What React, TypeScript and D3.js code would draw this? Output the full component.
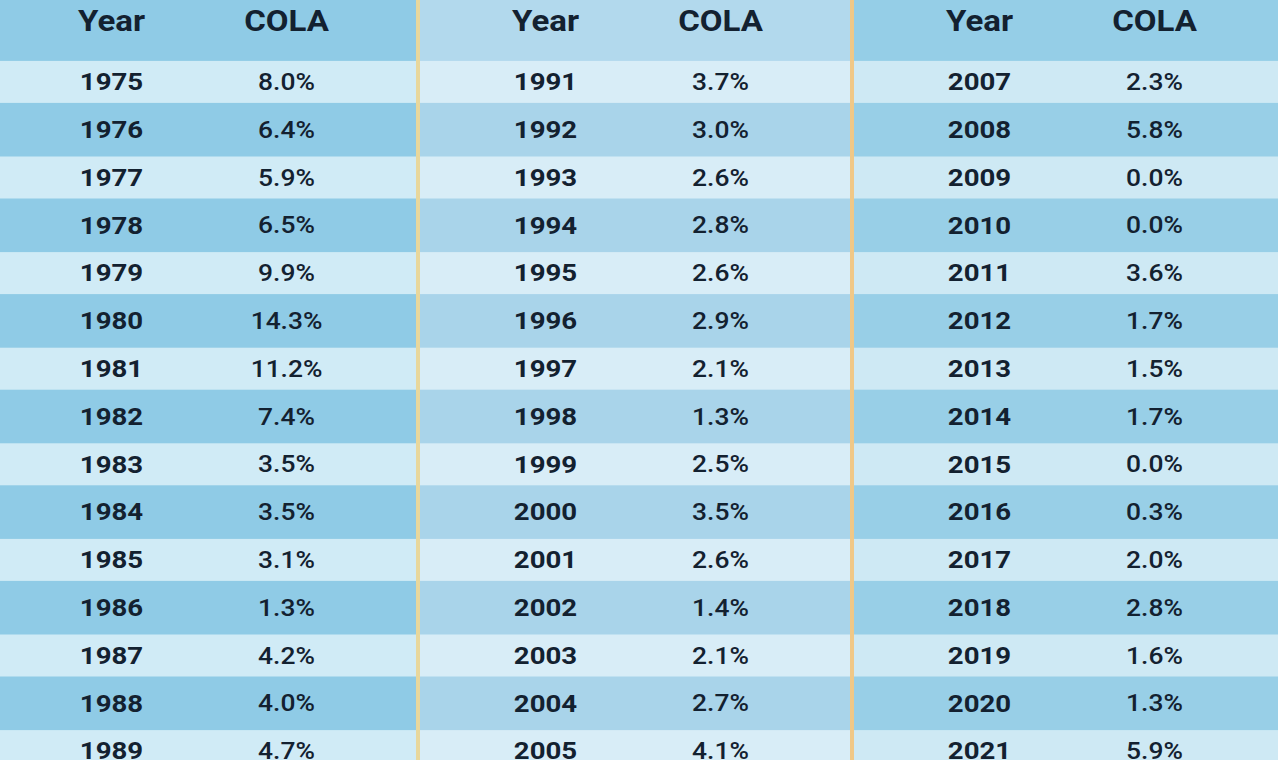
import React from 'react';
import { scaleBand } from 'd3';

const W = 1278;
const H = 760;

const years1 = ['1975', '1976', '1977', '1978', '1979', '1980', '1981', '1982', '1983', '1984', '1985', '1986', '1987', '1988', '1989'];
const cola1 = ['8.0%', '6.4%', '5.9%', '6.5%', '9.9%', '14.3%', '11.2%', '7.4%', '3.5%', '3.5%', '3.1%', '1.3%', '4.2%', '4.0%', '4.7%'];
const years2 = ['1991', '1992', '1993', '1994', '1995', '1996', '1997', '1998', '1999', '2000', '2001', '2002', '2003', '2004', '2005'];
const cola2 = ['3.7%', '3.0%', '2.6%', '2.8%', '2.6%', '2.9%', '2.1%', '1.3%', '2.5%', '3.5%', '2.6%', '1.4%', '2.1%', '2.7%', '4.1%'];
const years3 = ['2007', '2008', '2009', '2010', '2011', '2012', '2013', '2014', '2015', '2016', '2017', '2018', '2019', '2020', '2021'];
const cola3 = ['2.3%', '5.8%', '0.0%', '0.0%', '3.6%', '1.7%', '1.5%', '1.7%', '0.0%', '0.3%', '2.0%', '2.8%', '1.6%', '1.3%', '5.9%'];

const headers = ['Year', 'COLA'];

const groups = [
  { key: 'a', years: years1, cola: cola1, head: '#8fcbe6', dark: '#8fcbe6', light: '#d0ebf6' },
  { key: 'b', years: years2, cola: cola2, head: '#b2d9ed', dark: '#a9d4ea', light: '#d8edf7' },
  { key: 'c', years: years3, cola: cola3, head: '#95cee7', dark: '#98cfe7', light: '#cee9f4' },
];
const dividerColors = ['#e8d79c', '#f0c887'];

const textColor = '#132130';
const font = 'Roboto, "Open Sans", sans-serif';

export default function App() {
  const gx = scaleBand<string>()
    .domain(groups.map(g => g.key))
    .range([-16, 1286])
    .padding(0);
  const colX = scaleBand<string>()
    .domain(headers)
    .range([40, 390])
    .padding(0);

  const rows = years1.map((_, i) => String(i));
  const ry = scaleBand<string>()
    .domain(rows)
    .range([58, 58 + 15 * 47.8]);
  const headerBottom = 62;
  const lightH = 42;

  return (
    <svg
      width={W}
      height={H}
      style={{ position: 'absolute', left: 0, top: 0 }}
    >
      {groups.map((g, gi) => {
        const x0 = gx(g.key)!;
        const w = gx.bandwidth();
        return (
          <g key={g.key}>
            <rect x={x0} y={0} width={w} height={H} fill={g.dark} />
            <rect x={x0} y={0} width={w} height={headerBottom} fill={g.head} />
            {rows.map((r, i) =>
              i % 2 === 0 ? (
                <rect
                  key={r}
                  x={x0}
                  y={ry(r)! + ry.bandwidth() / 2 - lightH / 2}
                  width={w}
                  height={lightH}
                  fill={g.light}
                />
              ) : null
            )}
            {headers.map(h => (
              <text
                key={h}
                transform={`translate(${x0 + colX(h)! + colX.bandwidth() / 2},21) scale(1.1,1)`}
                textAnchor="middle"
                dominantBaseline="central"
                fontFamily={font}
                fontWeight={700}
                fontSize={30}
                fill={textColor}
              >
                {h}
              </text>
            ))}
            {rows.map((r, i) => {
              const cy = ry(r)! + ry.bandwidth() / 2;
              return (
                <g key={r}>
                  <text
                    transform={`translate(${x0 + colX('Year')! + colX.bandwidth() / 2},${cy}) scale(1.15,1)`}
                    textAnchor="middle"
                    dominantBaseline="central"
                    fontFamily={font}
                    fontWeight={700}
                    fontSize={24}
                    fill={textColor}
                  >
                    {g.years[i]}
                  </text>
                  <text
                    transform={`translate(${x0 + colX('COLA')! + colX.bandwidth() / 2},${cy}) scale(1.1,1)`}
                    textAnchor="middle"
                    dominantBaseline="central"
                    fontFamily={font}
                    fontWeight={500}
                    fontSize={24}
                    fill={textColor}
                  >
                    {g.cola[i]}
                  </text>
                </g>
              );
            })}
            {gi > 0 ? (
              <rect x={x0 - 2} y={0} width={4} height={H} fill={dividerColors[gi - 1]} />
            ) : null}
          </g>
        );
      })}
    </svg>
  );
}
